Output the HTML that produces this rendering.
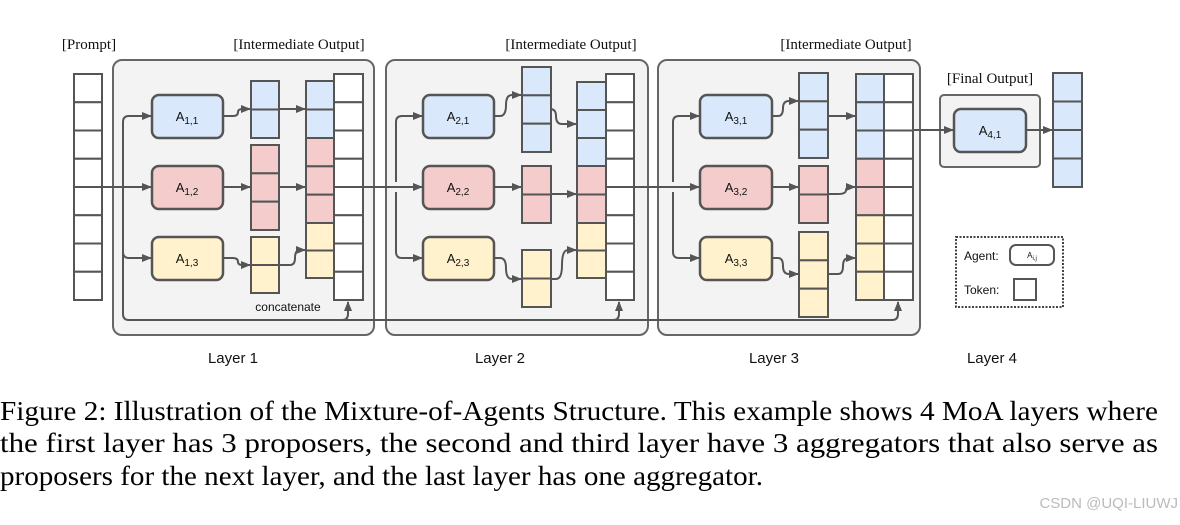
<!DOCTYPE html>
<html><head><meta charset="utf-8"><style>
html,body{margin:0;padding:0;background:#fff;}
svg{display:block;}
</style></head><body>
<svg id="s" width="1180" height="525" viewBox="0 0 1180 525" xmlns="http://www.w3.org/2000/svg">
<defs>
<marker id="a" viewBox="0 0 10 10" refX="9" refY="5" markerWidth="10" markerHeight="10" orient="auto" markerUnits="userSpaceOnUse">
<path d="M0,1 L10,5 L0,9 z" fill="#555"/></marker>
</defs>
<g fill="#f3f3f3" stroke="#666" stroke-width="2">
<rect x="113" y="60" width="261" height="275" rx="9"/>
<rect x="386" y="60" width="262" height="275" rx="9"/>
<rect x="658" y="60" width="262" height="275" rx="9"/>
<rect x="940" y="95" width="100" height="72" rx="4"/>
</g>
<g fill="none" stroke="#555" stroke-width="2">
<path d="M88,187 H123"/>
<path d="M348,187 H396"/>
<path d="M620,187 H673"/>
<path d="M123,180 V314 Q123,320 129,320 H893"/>
<path d="M342,320 Q348,320 348,314 V302" marker-end="url(#a)"/>
<path d="M613,320 Q619,320 619,314 V302" marker-end="url(#a)"/>
<path d="M892,320 Q898,320 898,314 V302" marker-end="url(#a)"/>
<path d="M123,192 V122 Q123,116 129,116 H151" marker-end="url(#a)"/>
<path d="M123,187 H151" marker-end="url(#a)"/>
<path d="M123,252 Q123,258 129,258 H151" marker-end="url(#a)"/>
<path d="M396,182 V122 Q396,116 402,116 H422" marker-end="url(#a)"/>
<path d="M396,187 H422" marker-end="url(#a)"/>
<path d="M396,192 V252 Q396,258 402,258 H422" marker-end="url(#a)"/>
<path d="M673,182 V122 Q673,116 679,116 H699" marker-end="url(#a)"/>
<path d="M673,187 H699" marker-end="url(#a)"/>
<path d="M673,192 V252 Q673,258 679,258 H699" marker-end="url(#a)"/>
<path d="M223,116 H233 Q238,116 238,112 Q238,109 243,109 H250" marker-end="url(#a)"/>
<path d="M223,187 H250" marker-end="url(#a)"/>
<path d="M223,258 H233 Q238,258 238,262 Q238,265 243,265 H250" marker-end="url(#a)"/>
<path d="M265,109 H305" marker-end="url(#a)"/>
<path d="M265,187 H305" marker-end="url(#a)"/>
<path d="M265,265 H290 Q295,265 295,258 Q295,250 300,250 H305" marker-end="url(#a)"/>
<path d="M494,116 H500 Q506,116 506,105 Q506,95 512,95 H521" marker-end="url(#a)"/>
<path d="M494,187 H521" marker-end="url(#a)"/>
<path d="M494,258 H500 Q506,258 506,268 Q506,279 512,279 H521" marker-end="url(#a)"/>
<path d="M536,109 H550 Q556,109 556,116 Q556,124 562,124 H576" marker-end="url(#a)"/>
<path d="M536,194 H576" marker-end="url(#a)"/>
<path d="M536,279 H556 Q562,279 562,265 Q562,250 568,250 H576" marker-end="url(#a)"/>
<path d="M772,116 H778 Q783,116 783,108 Q783,101 789,101 H798" marker-end="url(#a)"/>
<path d="M772,187 H798" marker-end="url(#a)"/>
<path d="M772,258 H778 Q783,258 783,266 Q783,274 789,274 H798" marker-end="url(#a)"/>
<path d="M813,116 H855" marker-end="url(#a)"/>
<path d="M813,194 H838 Q846,194 846,190 Q846,187 852,187 H855" marker-end="url(#a)"/>
<path d="M813,274 H838 Q843,274 843,266 Q843,258 849,258 H855" marker-end="url(#a)"/>
<path d="M898,130 H953" marker-end="url(#a)"/>
<path d="M1026,130 H1052" marker-end="url(#a)"/>
</g>
<g id="cells" stroke="#555" stroke-width="2"></g>
<g id="cells2" stroke="#555" stroke-width="2"></g>
<g stroke="#555" stroke-width="2.5">
<rect x="152" y="95" width="71" height="43" rx="7" fill="#dae8fc"/>
<rect x="152" y="166" width="71" height="43" rx="7" fill="#f4cccc"/>
<rect x="152" y="237" width="71" height="43" rx="7" fill="#fff2cc"/>
<rect x="423" y="95" width="71" height="43" rx="7" fill="#dae8fc"/>
<rect x="423" y="166" width="71" height="43" rx="7" fill="#f4cccc"/>
<rect x="423" y="237" width="71" height="43" rx="7" fill="#fff2cc"/>
<rect x="700" y="95" width="72" height="43" rx="7" fill="#dae8fc"/>
<rect x="700" y="166" width="72" height="43" rx="7" fill="#f4cccc"/>
<rect x="700" y="237" width="72" height="43" rx="7" fill="#fff2cc"/>
<rect x="954" y="109" width="72" height="43" rx="7" fill="#dae8fc"/>
</g>
<g font-family="Liberation Sans, sans-serif" font-size="13" fill="#111" text-anchor="middle">
<text x="187" y="121">A<tspan font-size="10" dy="3">1,1</tspan></text>
<text x="187" y="192">A<tspan font-size="10" dy="3">1,2</tspan></text>
<text x="187" y="263">A<tspan font-size="10" dy="3">1,3</tspan></text>
<text x="458" y="121">A<tspan font-size="10" dy="3">2,1</tspan></text>
<text x="458" y="192">A<tspan font-size="10" dy="3">2,2</tspan></text>
<text x="458" y="263">A<tspan font-size="10" dy="3">2,3</tspan></text>
<text x="736" y="121">A<tspan font-size="10" dy="3">3,1</tspan></text>
<text x="736" y="192">A<tspan font-size="10" dy="3">3,2</tspan></text>
<text x="736" y="263">A<tspan font-size="10" dy="3">3,3</tspan></text>
<text x="990" y="135">A<tspan font-size="10" dy="3">4,1</tspan></text>
<text x="288" y="311" font-size="12">concatenate</text>
</g>
<rect x="956" y="237" width="107" height="70" fill="none" stroke="#444" stroke-width="2" stroke-dasharray="2,1.5"/>
<rect x="1010" y="245" width="44" height="20" rx="6" fill="#fff" stroke="#555" stroke-width="2"/>
<rect x="1014" y="279" width="22" height="21" fill="#fff" stroke="#555" stroke-width="2"/>
<g font-family="Liberation Sans, sans-serif" fill="#111">
<text x="964" y="260" font-size="12">Agent:</text>
<text x="964" y="294" font-size="12">Token:</text>
<text x="1032" y="258" font-size="8" text-anchor="middle">A<tspan font-size="6" dy="2">i,j</tspan></text>
</g>
<g font-family="Liberation Serif, serif" font-size="15" fill="#111" text-anchor="middle">
<text x="89" y="49">[Prompt]</text>
<text x="299" y="49">[Intermediate Output]</text>
<text x="571" y="49">[Intermediate Output]</text>
<text x="846" y="49">[Intermediate Output]</text>
<text x="990" y="83">[Final Output]</text>
</g>
<g font-family="Liberation Sans, sans-serif" font-size="15" fill="#111" text-anchor="middle">
<text x="233" y="363">Layer 1</text>
<text x="500" y="363">Layer 2</text>
<text x="774" y="363">Layer 3</text>
<text x="992" y="363">Layer 4</text>
</g>
<g font-family="Liberation Serif, serif" font-size="27.5" fill="#000">
<text x="0" y="420" textLength="1158" lengthAdjust="spacingAndGlyphs">Figure 2: Illustration of the Mixture-of-Agents Structure. This example shows 4 MoA layers where</text>
<text x="0" y="452" textLength="1158" lengthAdjust="spacingAndGlyphs">the first layer has 3 proposers, the second and third layer have 3 aggregators that also serve as</text>
<text x="0" y="485" textLength="763" lengthAdjust="spacingAndGlyphs">proposers for the next layer, and the last layer has one aggregator.</text>
</g>
<text x="1178" y="508" text-anchor="end" font-family="Liberation Sans, sans-serif" font-size="15" fill="#bbb">CSDN @UQI-LIUWJ</text>
</svg>
<script>
(function(){
var B="#dae8fc",R="#f4cccc",Y="#fff2cc",W="#ffffff";
var g1=document.getElementById('cells');
var g2=document.getElementById('cells2');
function col(g,x,w,y,h,fills){
 for(var i=0;i<fills.length;i++){
  var r=document.createElementNS('http://www.w3.org/2000/svg','rect');
  r.setAttribute('x',x);r.setAttribute('y',y+i*h);r.setAttribute('width',w);r.setAttribute('height',h);
  r.setAttribute('fill',fills[i]);g.appendChild(r);
 }
}
function rep(c,n){var a=[];for(var i=0;i<n;i++)a.push(c);return a;}
var h8=28.25;
col(g1,74,28,74,h8,rep(W,8));
col(g1,334,29,74,h8,rep(W,8));
col(g1,306,28,81,28.5,[B,B]);
col(g1,306,28,138,28.33,[R,R,R]);
col(g1,306,28,223,27.5,[Y,Y]);
col(g2,251,28,81,28.5,[B,B]);
col(g2,251,28,145,28.33,[R,R,R]);
col(g2,251,28,237,28,[Y,Y]);
col(g1,606,28,74,h8,rep(W,8));
col(g1,577,29,82,28,[B,B,B]);
col(g1,577,29,166,28.5,[R,R]);
col(g1,577,29,223,27.5,[Y,Y]);
col(g2,522,29,67,28.33,[B,B,B]);
col(g2,522,29,166,28.5,[R,R]);
col(g2,522,29,250,28.5,[Y,Y]);
col(g1,884,29,74,h8,rep(W,8));
col(g1,856,28,74,h8,[B,B,B,R,R,Y,Y,Y]);
col(g2,799,29,73,28.33,[B,B,B]);
col(g2,799,29,166,28.5,[R,R]);
col(g2,799,29,232,28.33,[Y,Y,Y]);
col(g2,1053,29,73,28.5,[B,B,B,B]);
})();
</script>
</body></html>
